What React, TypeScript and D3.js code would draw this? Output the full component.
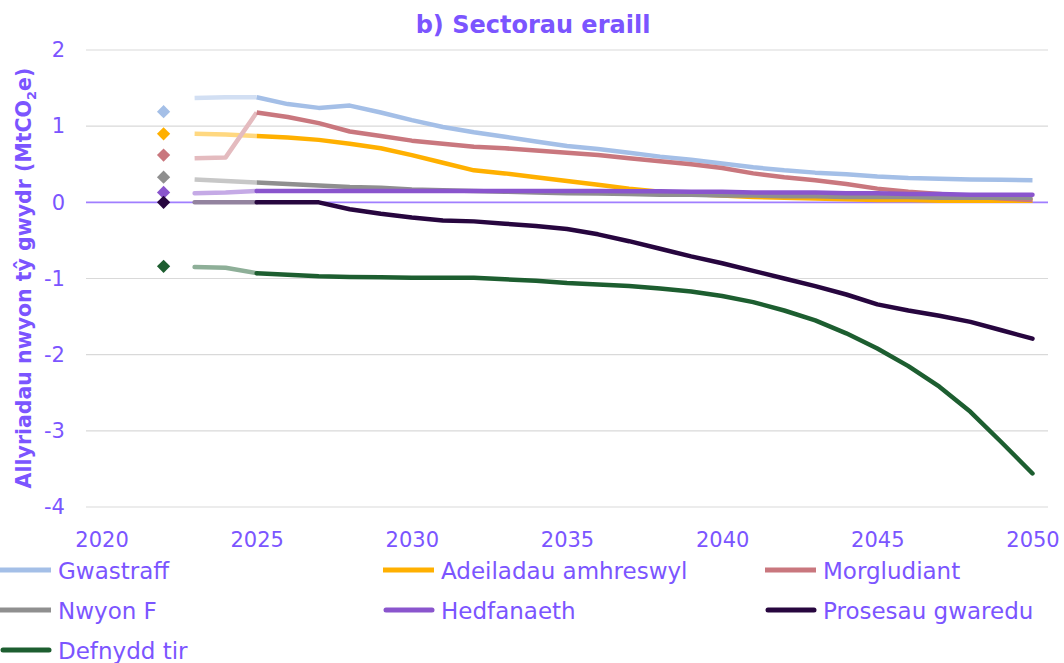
import React, { useEffect, useRef } from 'react'
import * as d3 from 'd3'

// data (MtCO2e)
const years = [2023, 2024, 2025, 2026, 2027, 2028, 2029, 2030, 2031, 2032, 2033, 2034, 2035, 2036,
    2037, 2038, 2039, 2040, 2041, 2042, 2043, 2044, 2045, 2046, 2047, 2048, 2049, 2050]
const markerYear = 2022
const projectionStart = 2025

const seriesNames = ['Gwastraff', 'Adeiladau amhreswyl', 'Morgludiant', 'Nwyon F', 'Hedfanaeth', 'Prosesau gwaredu', 'Defnydd tir']
const seriesColors = ['#A4BFE7', '#FFB000', '#C9777E', '#8F8F8F', '#8A55CD', '#27063F', '#1D5E30']
const roundCaps = [false, false, false, false, true, true, true]

const markerValues = [1.19, 0.90, 0.62, 0.33, 0.13, 0, -0.84]

const gwastraff = [1.37, 1.38, 1.38, 1.29, 1.24, 1.27, 1.18, 1.08, 0.99, 0.92, 0.86, 0.80, 0.74, 0.70,
    0.65, 0.60, 0.56, 0.51, 0.46, 0.42, 0.39, 0.37, 0.34, 0.32, 0.31, 0.30, 0.295, 0.29]
const adeiladau = [0.90, 0.89, 0.87, 0.85, 0.82, 0.77, 0.71, 0.62, 0.52, 0.42, 0.38, 0.33, 0.28, 0.23,
    0.18, 0.14, 0.11, 0.09, 0.07, 0.06, 0.05, 0.04, 0.03, 0.03, 0.02, 0.02, 0.02, 0.02]
const morgludiant = [0.58, 0.59, 1.18, 1.12, 1.04, 0.93, 0.87, 0.81, 0.77, 0.73, 0.71, 0.68, 0.65, 0.62,
    0.58, 0.54, 0.50, 0.45, 0.38, 0.33, 0.29, 0.24, 0.18, 0.14, 0.11, 0.08, 0.05, 0.03]
const nwyonF = [0.30, 0.28, 0.26, 0.24, 0.22, 0.20, 0.19, 0.17, 0.16, 0.15, 0.14, 0.13, 0.12, 0.115,
    0.11, 0.10, 0.10, 0.09, 0.09, 0.08, 0.08, 0.07, 0.07, 0.07, 0.06, 0.06, 0.06, 0.06]
const hedfanaeth = [0.12, 0.13, 0.15, 0.15, 0.15, 0.15, 0.15, 0.15, 0.15, 0.15, 0.15, 0.15, 0.15, 0.15,
    0.145, 0.145, 0.14, 0.14, 0.13, 0.13, 0.13, 0.12, 0.12, 0.11, 0.11, 0.10, 0.10, 0.10]
const prosesau = [0, 0, 0, 0, 0, -0.09, -0.15, -0.20, -0.24, -0.25, -0.28, -0.31, -0.35, -0.42,
    -0.51, -0.61, -0.71, -0.80, -0.90, -1.00, -1.10, -1.21, -1.34, -1.42, -1.49, -1.57, -1.68, -1.79]
const defnyddTir = [-0.85, -0.86, -0.93, -0.95, -0.97, -0.98, -0.985, -0.99, -0.99, -0.99, -1.01, -1.03, -1.06, -1.08,
    -1.10, -1.13, -1.17, -1.23, -1.31, -1.42, -1.55, -1.72, -1.92, -2.15, -2.42, -2.75, -3.15, -3.56]

const seriesValues = [gwastraff, adeiladau, morgludiant, nwyonF, hedfanaeth, prosesau, defnyddTir]

const xTicks = [2020, 2025, 2030, 2035, 2040, 2045, 2050]
const yTicks = [-4, -3, -2, -1, 0, 1, 2]

const textColor = '#7B55FF'
const font = '"DejaVu Sans", sans-serif'

function Chart() {
    const ref = useRef<SVGSVGElement>(null)

    useEffect(() => {
        let width = 1064
        let height = 663
        let svg = d3.select(ref.current).attr('width', width).attr('height', height)

        let xScale = d3.scaleLinear().domain([2019.5, 2050.5]).range([86, 1048])
        let yScale = d3.scaleLinear().domain([-4, 2]).range([507, 50])

        // gridlines
        svg.selectAll('.grid').data(yTicks.filter(d => d !== 0)).join('line')
            .attr('class', 'grid')
            .attr('x1', xScale.range()[0]).attr('x2', xScale.range()[1])
            .attr('y1', d => yScale(d)).attr('y2', d => yScale(d))
            .attr('stroke', '#D9D9D9').attr('stroke-width', 1.2)

        svg.selectAll('.zero').data([0]).join('line')
            .attr('class', 'zero')
            .attr('x1', xScale.range()[0]).attr('x2', xScale.range()[1])
            .attr('y1', yScale(0)).attr('y2', yScale(0))
            .attr('stroke', '#A07EFF').attr('stroke-width', 1.6)

        // axes
        let xAxis = d3.axisBottom(xScale).tickValues(xTicks).tickFormat(d3.format('d')).tickSize(0).tickPadding(25)
        let yAxis = d3.axisLeft(yScale).tickValues(yTicks).tickFormat(d3.format('d')).tickSize(0).tickPadding(21)

        let gx = svg.selectAll('.x-axis').data([0]).join('g')
            .attr('class', 'x-axis')
            .attr('transform', `translate(0, ${yScale.range()[0]})`)
            .call(xAxis)
        let gy = svg.selectAll('.y-axis').data([0]).join('g')
            .attr('class', 'y-axis')
            .attr('transform', `translate(${xScale.range()[0]}, 0)`)
            .call(yAxis)
        for (let g of [gx, gy]) {
            g.select('.domain').remove()
            g.selectAll('text').attr('fill', textColor).attr('font-size', 21).attr('font-family', font)
        }
        gy.selectAll('text').text(d => (d < 0 ? '-' + Math.abs(d) : String(d)))

        // lines: faded up to 2025, full colour afterwards
        let series = seriesNames.map((name, i) => ({
            name,
            color: seriesColors[i],
            round: roundCaps[i],
            points: years.map((yr, j) => ({ year: yr, value: seriesValues[i][j] }))
        }))

        let line = d3.line<{ year: number, value: number }>()
            .x(d => xScale(d.year))
            .y(d => yScale(d.value))

        let groups = svg.selectAll('.series').data(series).join('g').attr('class', 'series')

        groups.selectAll('.faded').data(d => [d]).join('path')
            .attr('class', 'faded')
            .attr('d', d => line(d.points.filter(p => p.year <= projectionStart)))
            .attr('fill', 'none')
            .attr('stroke', d => d3.interpolateRgb(d.color, '#ffffff')(0.5))
            .attr('stroke-width', 4.5)
            .attr('stroke-linejoin', 'round')
            .attr('stroke-linecap', d => (d.round ? 'round' : 'butt'))

        groups.selectAll('.solid').data(d => [d]).join('path')
            .attr('class', 'solid')
            .attr('d', d => line(d.points.filter(p => p.year >= projectionStart)))
            .attr('fill', 'none')
            .attr('stroke', d => d.color)
            .attr('stroke-width', 4.5)
            .attr('stroke-linejoin', 'round')
            .attr('stroke-linecap', d => (d.round ? 'round' : 'butt'))

        // 2022 markers
        let diamond = d3.symbol().type(d3.symbolSquare).size(88)
        svg.selectAll('.marker').data(series).join('path')
            .attr('class', 'marker')
            .attr('d', diamond())
            .attr('transform', (d, i) => `translate(${xScale(markerYear)}, ${yScale(markerValues[i])}) rotate(45)`)
            .attr('fill', d => d.color)

        // title
        svg.selectAll('.title').data([0]).join('text')
            .attr('class', 'title')
            .attr('x', 533).attr('y', 33)
            .attr('text-anchor', 'middle')
            .attr('font-family', font).attr('font-weight', 'bold').attr('font-size', 24)
            .attr('fill', textColor)
            .text('b) Sectorau eraill')

        // y axis title
        let ytitle = svg.selectAll('.y-title').data([0]).join('text')
            .attr('class', 'y-title')
            .attr('transform', 'translate(31, 278) rotate(-90)')
            .attr('text-anchor', 'middle')
            .attr('font-family', font).attr('font-weight', 'bold').attr('font-size', 20.5)
            .attr('fill', textColor)
        ytitle.selectAll('tspan').remove()
        ytitle.append('tspan').text('Allyriadau nwyon tŷ gwydr (MtCO')
        ytitle.append('tspan').attr('font-size', 13).attr('dy', 5).text('2')
        ytitle.append('tspan').attr('dy', -5).text('e)')

        // legend
        let colX = [0, 383, 765]
        let rowY = [570, 610, 650]
        let legend = svg.selectAll('.legend').data(series).join('g')
            .attr('class', 'legend')
            .attr('transform', (d, i) => `translate(${colX[i % 3]}, ${rowY[Math.floor(i / 3)]})`)
        legend.selectAll('line').data(d => [d]).join('line')
            .attr('x1', d => (d.round ? 3 : 0)).attr('x2', d => (d.round ? 49 : 51))
            .attr('y1', 0).attr('y2', 0)
            .attr('stroke', d => d.color).attr('stroke-width', 5)
            .attr('stroke-linecap', d => (d.round ? 'round' : 'butt'))
        legend.selectAll('text').data(d => [d]).join('text')
            .attr('x', 58).attr('y', 9)
            .attr('font-family', font).attr('font-size', 23)
            .attr('fill', textColor)
            .text(d => d.name)
    }, [])

    return <svg ref={ref} style={{ position: 'absolute', left: 0, top: 0, background: '#fff' }}></svg>
}

export default function App() {
    return <Chart />
}
